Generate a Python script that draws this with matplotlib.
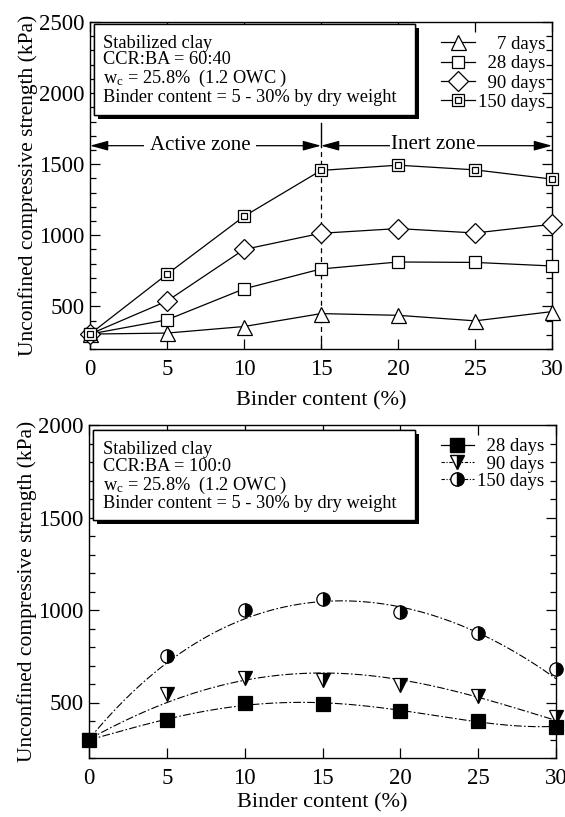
import numpy as np
import matplotlib
matplotlib.use("Agg")
import matplotlib.pyplot as plt
from matplotlib.lines import Line2D
from matplotlib.legend_handler import HandlerTuple
from matplotlib.patches import Rectangle
import matplotlib.patheffects as pe

plt.rcParams['font.family'] = ['Liberation Serif', 'DejaVu Serif']
plt.rcParams['mathtext.fontset'] = 'custom'
plt.rcParams['mathtext.rm'] = 'Liberation Serif'
plt.rcParams['mathtext.it'] = 'Liberation Serif:italic'

# ---------------- data ----------------
binder = [0, 5, 10, 15, 20, 25, 30]

# top panel: CCR:BA = 60:40
top_7 = [305, 312, 358, 449, 437, 398, 463]
top_28 = [305, 405, 623, 763, 812, 809, 784]
top_90 = [305, 537, 900, 1014, 1047, 1016, 1077]
top_150 = [305, 726, 1133, 1456, 1493, 1460, 1395]
top_labels = ['    7 days', '  28 days', '  90 days', '150 days']

# bottom panel: CCR:BA = 100:0 (measured points)
bot_28 = [300, 403, 500, 493, 455, 401, 365]
bot_90 = [300, 547, 635, 622, 592, 536, 424]
bot_150 = [300, 752, 1000, 1061, 991, 874, 680]
# trend curves drawn through the points
trend_28 = [300, 400, 500, 490, 455, 400, 370]
trend_90 = [300, 505, 615, 655, 635, 520, 405]
trend_150 = [300, 720, 945, 1045, 1025, 870, 630]
bot_labels = ['  28 days', '  90 days', '150 days']

box_top = ['Stabilized clay', 'CCR:BA = 60:40',
           r'w$_\mathrm{c}$ = 25.8%  (1.2 OWC )',
           'Binder content = 5 - 30% by dry weight']
box_bot = ['Stabilized clay', 'CCR:BA = 100:0',
           r'w$_\mathrm{c}$ = 25.8%  (1.2 OWC )',
           'Binder content = 5 - 30% by dry weight']

W, H = 565, 817
fig = plt.figure(figsize=(W / 100, H / 100), dpi=100)


def px_axes(l, t, r, b):
    return fig.add_axes([l / W, 1 - b / H, (r - l) / W, (b - t) / H])


ax1 = px_axes(90, 22, 552, 349)
ax2 = px_axes(89, 425, 556, 758)

TICK_FS = 16.5
XLAB_FS = 16
YLAB_FS = 15.5
BOX_FS = 13.2
LEG_FS = 13.5
ZONE_FS = 15
LW = 0.9


def style_axis(ax, ymax, xpad):
    ax.set_xlim(0, 30)
    ax.set_ylim(200, ymax)
    ax.set_xticks(binder)
    ax.set_yticks(np.arange(500, ymax + 1, 500))
    ax.set_yticks(np.arange(200, ymax + 1, 100), minor=True)
    ax.tick_params(which='both', direction='in', top=True, right=True,
                   labelsize=TICK_FS, width=0.9)
    ax.tick_params(which='major', length=7)
    ax.tick_params(which='minor', length=4)
    ax.tick_params(axis='y', which='major', pad=4)
    ax.tick_params(axis='x', which='major', length=7, pad=7)
    for s in ax.spines.values():
        s.set_linewidth(1.0)
    ax.set_xlabel('Binder content (%)', fontsize=XLAB_FS, labelpad=xpad)
    ax.set_ylabel('Unconfined compressive strength (kPa)', fontsize=YLAB_FS,
                  labelpad=1)


def info_box(ax, x0, y0, x1, y1, lines):
    rect = Rectangle((x0, y0), x1 - x0, y1 - y0, transform=ax.transAxes,
                     facecolor='white', edgecolor='k', lw=1.0, zorder=5,
                     clip_on=False)
    rect.set_path_effects([pe.withSimplePatchShadow(offset=(3, -3),
                                                    shadow_rgbFace='k',
                                                    alpha=1.0),
                           pe.Normal()])
    ax.add_patch(rect)
    ax.text(x0 + 0.02, y1 - 0.033, '\n'.join(lines), transform=ax.transAxes,
            ha='left', va='top', fontsize=BOX_FS, linespacing=0.98, zorder=6)


# ---------------- top panel ----------------
style_axis(ax1, 2500, 8)
ms_kw = dict(color='k', lw=LW, mec='k', mew=0.9, mfc='white')
MS7, MS28, MS90, MS150, MS150i = 10.8, 9.0, 9.7, 8.8, 3.8
ax1.plot(binder, top_7, marker='^', ms=MS7, **ms_kw, zorder=3, clip_on=False)
ax1.plot(binder, top_28, marker='s', ms=MS28, **ms_kw, zorder=3, clip_on=False)
ax1.plot(binder, top_90, marker='D', ms=MS90, **ms_kw, zorder=3, clip_on=False)
ax1.plot(binder, top_150, marker='s', ms=MS150, **ms_kw, zorder=3,
         clip_on=False)
ax1.plot(binder, top_150, ls='none', marker='s', ms=MS150i, mec='k', mew=0.9,
         mfc='white', zorder=4, clip_on=False)

# zone divider and arrows
zone_y = 1630
ax1.plot([15, 15], [200, zone_y], color='k', lw=0.9, ls=(0, (4, 3)), zorder=2)
ax1.plot([15, 15], [zone_y, 1790], color='k', lw=1.0, zorder=2)
arrow_kw = dict(arrowstyle='-|>,head_length=1.1,head_width=0.3', color='k',
                lw=0.9, shrinkA=0, shrinkB=0)
ax1.annotate('', xy=(0, zone_y), xytext=(7.5, zone_y), arrowprops=arrow_kw)
ax1.annotate('', xy=(15, zone_y), xytext=(7.5, zone_y), arrowprops=arrow_kw)
ax1.annotate('', xy=(15, zone_y), xytext=(22.5, zone_y), arrowprops=arrow_kw)
ax1.annotate('', xy=(30, zone_y), xytext=(22.5, zone_y), arrowprops=arrow_kw)
ax1.text(7.14, zone_y, 'Active zone', ha='center', va='center',
         fontsize=ZONE_FS, zorder=4,
         bbox=dict(facecolor='white', edgecolor='none', pad=4))
ax1.text(22.3, zone_y + 5, 'Inert zone', ha='center', va='center',
         fontsize=ZONE_FS, zorder=4,
         bbox=dict(facecolor='white', edgecolor='none', pad=1))

info_box(ax1, 0.009, 0.716, 0.703, 0.994, box_top)

h7 = Line2D([], [], marker='^', ms=MS7, **ms_kw)
h28 = Line2D([], [], marker='s', ms=MS28, **ms_kw)
h90 = Line2D([], [], marker='D', ms=MS90, **ms_kw)
h150a = Line2D([], [], marker='s', ms=MS150, **ms_kw)
h150b = Line2D([], [], ls='none', marker='s', ms=MS150i, mec='k', mew=0.9,
               mfc='white')
ax1.legend([h7, h28, h90, (h150a, h150b)], top_labels,
           handler_map={tuple: HandlerTuple(ndivide=1, pad=0.0)},
           loc='upper right', bbox_to_anchor=(0.985, 0.958),
           frameon=False, fontsize=LEG_FS, handlelength=1.8,
           handletextpad=0.15, labelspacing=0.12, borderpad=0.0,
           borderaxespad=0.0)

# ---------------- bottom panel ----------------
style_axis(ax2, 2000, 3)
dashdot = (0, (7, 2, 1.5, 2))
xs = np.linspace(0, 30, 200)
for ys in (trend_28, trend_90, trend_150):
    coef = np.polyfit(binder, ys, 4)
    ax2.plot(xs, np.polyval(coef, xs), color='k', lw=0.8, ls=dashdot, zorder=2)

MSO, MSV, MSS = 9.6, 10.0, 9.4
ax2.plot(binder, bot_150, ls='none', marker='o', ms=MSO, mec='k', mew=0.9,
         mfc='k', mfcalt='white', fillstyle='right', zorder=3, clip_on=False)
ax2.plot(binder, bot_90, ls='none', marker='v', ms=MSV, mec='k', mew=0.9,
         mfc='k', mfcalt='white', fillstyle='right', zorder=3, clip_on=False)
ax2.plot(binder, bot_28, ls='none', marker='s', ms=MSS, mec='k', mew=0.9,
         mfc='k', zorder=4, clip_on=False)

info_box(ax2, 0.009, 0.715, 0.698, 0.985, box_bot)

g28 = Line2D([], [], color='k', lw=LW, marker='s', ms=MSS, mfc='k', mec='k')
g90 = Line2D([], [], color='k', lw=0.8, ls=(0, (3, 1.5, 1, 1.5)), marker='v',
             ms=MSV, mec='k', mfc='k', mfcalt='white', fillstyle='right')
g150 = Line2D([], [], color='k', lw=0.8, ls=(0, (3, 1.5, 1, 1.5)), marker='o',
              ms=MSO, mec='k', mfc='k', mfcalt='white', fillstyle='right')
ax2.legend([g28, g90, g150], bot_labels, loc='upper right',
           bbox_to_anchor=(0.975, 0.96), frameon=False, fontsize=LEG_FS,
           handlelength=1.8, handletextpad=0.15, labelspacing=0.0,
           borderpad=0.0, borderaxespad=0.0)

fig.savefig('out.png', dpi=100)
